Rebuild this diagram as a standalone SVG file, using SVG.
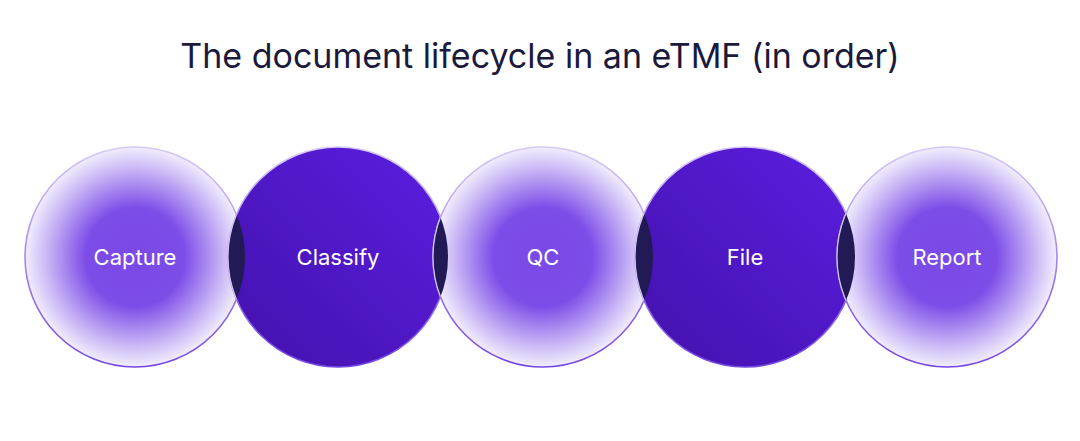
<svg xmlns="http://www.w3.org/2000/svg" width="1080" height="441" viewBox="0 0 1080 441">
<style>
text{font-family:Inter,"Noto Sans",sans-serif}
.t{font-size:22px;fill:#fff;text-anchor:middle}
.c{stroke-width:1.6}
</style>
<defs>
<radialGradient id="lg" cx="0.5" cy="0.5" r="0.5">
<stop offset="0" stop-color="#7A48E6"/><stop offset="0.45" stop-color="#7D4DE8"/><stop offset="0.8" stop-color="#C9B6F5"/><stop offset="1" stop-color="#F2EEFD"/>
</radialGradient>
<linearGradient id="dg" x1="1" y1="0" x2="0" y2="1">
<stop offset="0" stop-color="#5B1EE0"/><stop offset="1" stop-color="#4311AC"/>
</linearGradient>
<linearGradient id="st" x1="0" y1="0" x2="0" y2="1">
<stop offset="0" stop-color="#D6C9F7"/><stop offset="1" stop-color="#7446E0"/>
</linearGradient>
<clipPath id="k1"><circle cx="135" cy="257" r="110"/></clipPath>
<clipPath id="k2"><circle cx="338" cy="257" r="110"/></clipPath>
<clipPath id="k3"><circle cx="543" cy="257" r="110"/></clipPath>
<clipPath id="k4"><circle cx="745" cy="257" r="110"/></clipPath>
</defs>
<text x="540" y="68" font-size="34" fill="#1B1A3D" text-anchor="middle">The document lifecycle in an eTMF (in order)</text>
<g id="capture"><circle class="c" cx="135" cy="257" r="110" fill="url(#lg)" stroke="url(#st)"/><text class="t" x="135" y="265">Capture</text></g>
<g id="classify"><circle class="c" cx="338" cy="257" r="110" fill="url(#dg)" stroke="url(#st)"/><text class="t" x="338" y="265">Classify</text></g>
<g id="qc"><circle class="c" cx="543" cy="257" r="110" fill="url(#lg)" stroke="url(#st)"/><text class="t" x="543" y="265">QC</text></g>
<g id="file"><circle class="c" cx="745" cy="257" r="110" fill="url(#dg)" stroke="url(#st)"/><text class="t" x="745" y="265">File</text></g>
<g id="report"><circle class="c" cx="947" cy="257" r="110" fill="url(#lg)" stroke="url(#st)"/><text class="t" x="947" y="265">Report</text></g>
<g id="overlaps" fill="#221A55" stroke="#D6C9F7" stroke-width="1.2">
<circle cx="338" cy="257" r="110" clip-path="url(#k1)"/>
<circle cx="543" cy="257" r="110" clip-path="url(#k2)"/>
<circle cx="745" cy="257" r="110" clip-path="url(#k3)"/>
<circle cx="947" cy="257" r="110" clip-path="url(#k4)"/>
</g>
</svg>
